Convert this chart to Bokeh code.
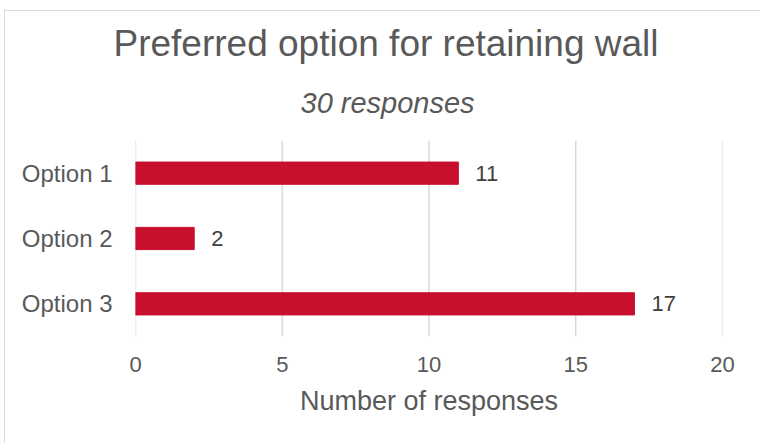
from bokeh.plotting import figure
from bokeh.models import ColumnDataSource, FactorRange, Range1d, FixedTicker, LabelSet, Title, Span
from bokeh.core.properties import value
from bokeh.embed import file_html
from bokeh.resources import INLINE

categories = ["Option 1", "Option 2", "Option 3"]
counts = [11, 2, 17]
x_ticks = [0, 5, 10, 15, 20]

FONT = "Liberation Sans"
GRAY = "#595959"
RED = "#C8102E"

source = ColumnDataSource(dict(cat=categories, val=counts, lab=[str(v) for v in counts]))

p = figure(
    y_range=FactorRange(*reversed(categories), range_padding=0),
    x_range=Range1d(0, 20),
    width=756, height=433,
    output_backend="svg", toolbar_location=None, title=None,
    min_border_left=130, min_border_right=39, min_border_top=0, min_border_bottom=108,
)
p.styles = {"border-left": "1px solid #D9D9D9", "border-top": "1px solid #D9D9D9",
            "margin-left": "4px", "margin-top": "10px"}

for t in x_ticks:
    p.add_layout(Span(location=t, dimension="height", line_color="#D9D9D9",
                      line_width=1.5, level="underlay"))

p.hbar(y="cat", right="val", left=0, height=0.34, source=source, color=RED)

labels = LabelSet(x="val", y="cat", text="lab", source=source, x_offset=17,
                  text_baseline="middle", text_align="left",
                  text_font=value(FONT), text_font_size="22px", text_color="#404040")
p.add_layout(labels)

sub = Title(text="30 responses", align="left", text_font=FONT, text_font_size="29px",
            text_font_style="italic", text_color=GRAY, standoff=43, offset=165)
main = Title(text="Preferred option for retaining wall", align="left", text_font=FONT,
             text_font_size="37px", text_font_style="normal", text_color=GRAY,
             standoff=0, offset=-22)
spacer = Title(text=" ", text_font_size="1px", standoff=6)
p.add_layout(sub, "above")
p.add_layout(main, "above")
p.add_layout(spacer, "above")

p.xaxis.ticker = FixedTicker(ticks=x_ticks)
p.xaxis.axis_label = "Number of responses"
p.xaxis.axis_label_text_font = FONT
p.xaxis.axis_label_text_font_size = "27px"
p.xaxis.axis_label_text_font_style = "normal"
p.xaxis.axis_label_text_color = GRAY
p.xaxis.axis_label_standoff = 11
p.xaxis.major_label_text_font = FONT
p.xaxis.major_label_text_font_size = "22px"
p.xaxis.major_label_text_color = GRAY
p.xaxis.major_label_standoff = 20

p.yaxis.major_label_text_font = FONT
p.yaxis.major_label_text_font_size = "24px"
p.yaxis.major_label_text_color = GRAY
p.yaxis.major_label_standoff = 23

for ax in (p.xaxis, p.yaxis):
    ax.axis_line_color = None
    ax.major_tick_line_color = None
    ax.minor_tick_line_color = None
    ax.major_tick_out = 0
    ax.major_tick_in = 0
    ax.minor_tick_out = 0
    ax.minor_tick_in = 0

p.xgrid.grid_line_color = None
p.ygrid.grid_line_color = None
p.outline_line_color = None

open("out.html", "w").write(file_html(p, INLINE))
